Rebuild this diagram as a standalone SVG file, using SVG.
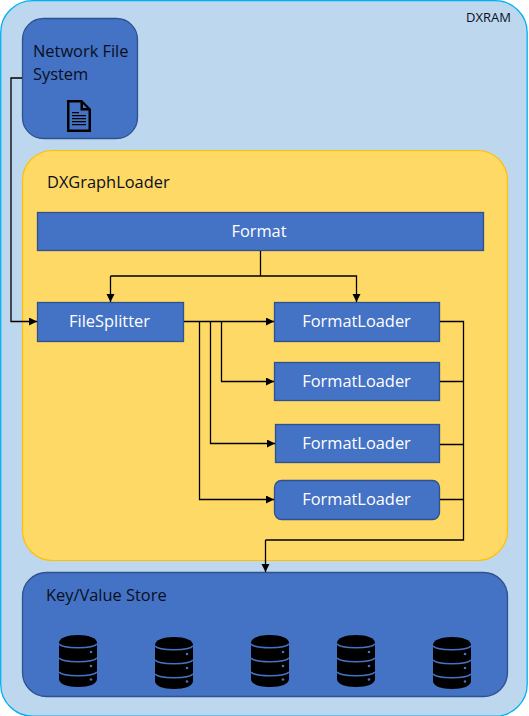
<svg xmlns="http://www.w3.org/2000/svg" xmlns:xlink="http://www.w3.org/1999/xlink" width="529" height="716" viewBox="0 0 529 716">
<style>
text{font-family:"Open Sans","Noto Sans","Liberation Sans",sans-serif;font-size:16.400px}
.b{fill:#4472c4;stroke:#2f528f;stroke-width:1.3}
.w{fill:#fff;text-anchor:middle}
.k{fill:#0a0f1e}
.c{fill:none;stroke:#000;stroke-width:1.3}
.a{marker-end:url(#ah)}
</style>
<defs>
<marker id="ah" markerUnits="userSpaceOnUse" markerWidth="9" markerHeight="9" refX="8" refY="4" orient="auto"><path d="M0 0L8 4L0 8Z" fill="#000"/></marker>
<symbol id="db" overflow="visible">
<path d="M0 8C0 3 8 0 19 0S38 3 38 8V44C38 49 30 52 19 52S0 49 0 44Z" fill="#000"/>
<path d="M0 9C4 14 34 14 38 9M0 23C4 28 34 28 38 23M0 37C4 42 34 42 38 37" fill="none" stroke="#4472c4" stroke-width="1.6"/>
<circle cx="32" cy="17" r="1.3" fill="#4472c4"/><circle cx="32" cy="31" r="1.3" fill="#4472c4"/><circle cx="32" cy="44.500" r="1.3" fill="#4472c4"/>
</symbol>
</defs>
<rect width="529" height="716" fill="#fff"/>
<g id="dxram"><rect x="0.700" y="0.700" width="526.500" height="715.500" rx="32" fill="#bdd7ee" stroke="#00b0f0" stroke-width="1.300"/><text x="466" y="22" style="font-size:13px" fill="#0a0f1e">DXRAM</text></g>
<g id="nfs"><rect class="b" x="22.500" y="18.500" width="115" height="120" rx="21"/><text class="k" x="33" y="57">Network File</text><text class="k" x="33" y="80">System</text>
<path fill-rule="evenodd" d="M67 100H82L91 109V132H67ZM69.500 102.500V129.500H88.500V110.500H80.500V102.500ZM83 104V108H87Z" fill="#000"/>
<path d="M72 112H79V113.300H72ZM72 115H86V116.300H72ZM72 118H86V119.300H72ZM72 121H86V122.300H72ZM72 124H86V125.300H72Z" fill="#000"/></g>
<g id="loader"><rect x="22.500" y="150.500" width="485" height="410" rx="30" fill="#ffd966" stroke="#ffc000" stroke-width="1.200"/><text class="k" x="47" y="188">DXGraphLoader</text></g>
<g id="format"><rect class="b" x="37.500" y="212.500" width="446" height="38"/><text class="w" x="259" y="237">Format</text></g>
<g id="splitter"><rect class="b" x="37.500" y="302.500" width="146" height="39"/><text class="w" x="109.500" y="327">FileSplitter</text></g>
<g id="fl1"><rect class="b" x="274.500" y="302.500" width="165" height="39"/><text class="w" x="356.500" y="327">FormatLoader</text></g>
<g id="fl2"><rect class="b" x="274.500" y="362.500" width="165" height="38"/><text class="w" x="356.500" y="387">FormatLoader</text></g>
<g id="fl3"><rect class="b" x="275.500" y="424.500" width="164" height="38"/><text class="w" x="356.500" y="449">FormatLoader</text></g>
<g id="fl4"><rect class="b" x="274.500" y="480.500" width="165" height="39" rx="7"/><text class="w" x="356.500" y="505">FormatLoader</text></g>
<g id="kv"><rect class="b" x="22.500" y="572.500" width="485" height="124" rx="24"/><text class="k" x="46" y="601">Key/Value Store</text>
<use xlink:href="#db" href="#db" x="59" y="635"/><use xlink:href="#db" href="#db" x="155" y="637"/><use xlink:href="#db" href="#db" x="251" y="635"/><use xlink:href="#db" href="#db" x="337" y="635"/><use xlink:href="#db" href="#db" x="433" y="637"/></g>
<g id="connectors">
<path class="c a" d="M22 78H11V321.500H37"/>
<path class="c" d="M260.500 251V276"/>
<path class="c a" d="M110.500 276H356.500V302"/>
<path class="c a" d="M110.500 276V302"/>
<path class="c a" d="M184 321.500H274"/>
<path class="c a" d="M221.500 321.500V381.500H274"/>
<path class="c a" d="M210.500 321.500V443.500H275"/>
<path class="c a" d="M199.500 321.500V499.500H274"/>
<path class="c" d="M440 321.500H463.500V540H265.500"/>
<path class="c" d="M440 381.500H463.500M440 444.500H463.500M440 499.500H463.500"/>
<path class="c a" d="M265.500 540V572"/>
</g>
</svg>
